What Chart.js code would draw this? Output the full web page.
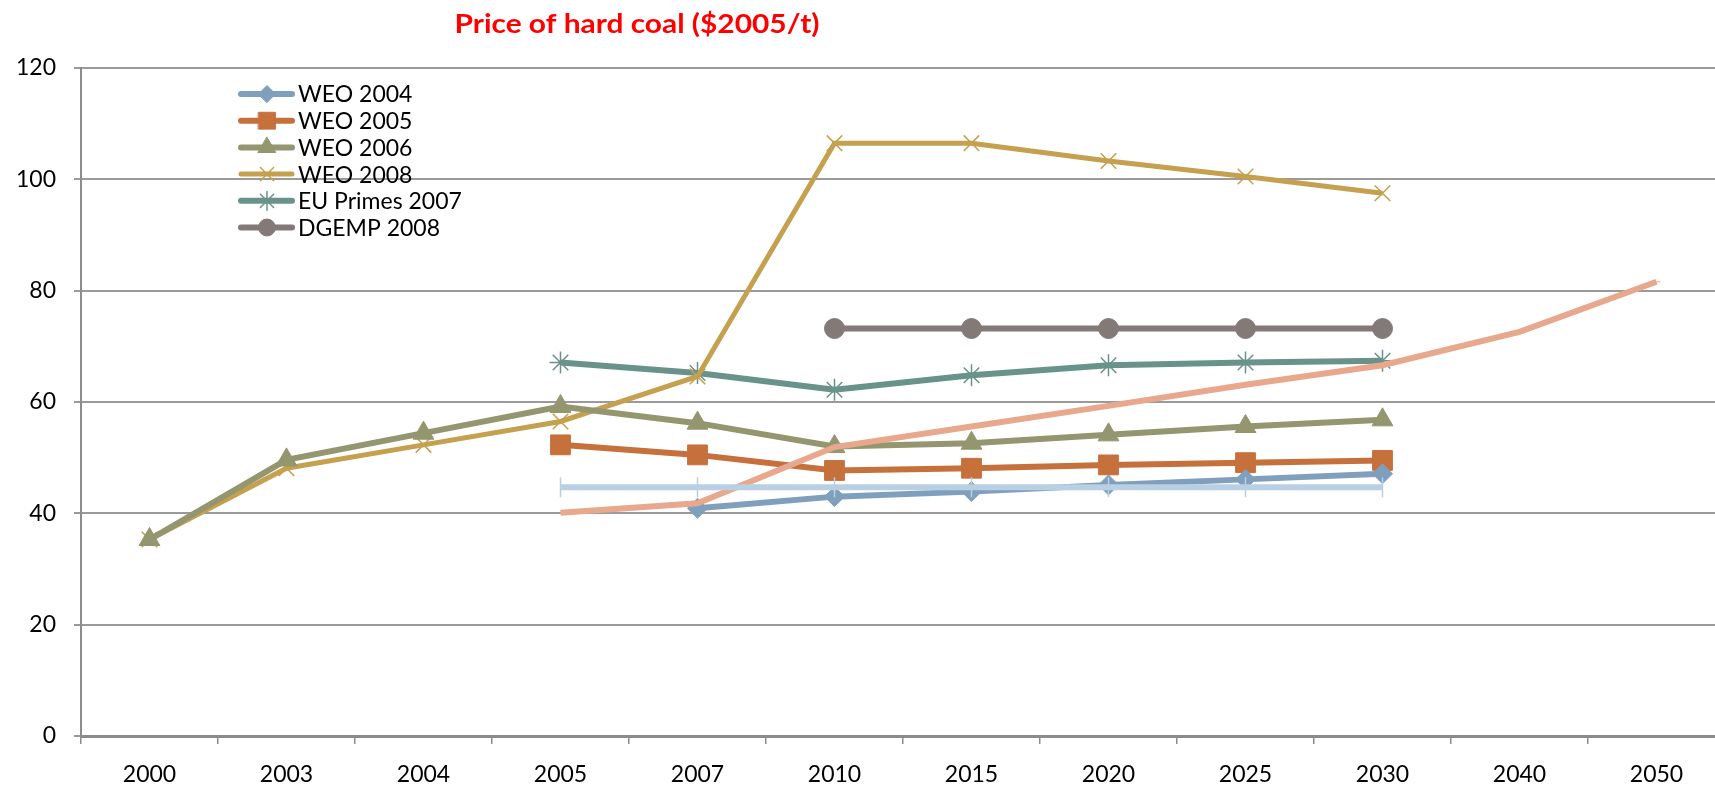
<!DOCTYPE html>
<html>
<head>
<meta charset="utf-8">
<script src="https://cdn.jsdelivr.net/npm/chart.js@4.4.0/dist/chart.umd.min.js"></script>
<style>
  html, body { margin: 0; padding: 0; background: #fff; overflow: hidden; }
  #wrap { position: relative; width: 1715px; height: 787px; overflow: hidden; }
  canvas { display: block; }
</style>
</head>
<body>
<div id="wrap"><canvas id="coalChart" width="1745" height="787"></canvas></div>
<script>
// categories (years)
const years = ["2000", "2003", "2004", "2005", "2007", "2010", "2015", "2020", "2025", "2030", "2040", "2050"];

// series values
const weo2004 = [null, null, null, null, 40.9, 43.0, 43.9, 45.1, 46.1, 47.1, null, null];
const weo2005 = [null, null, null, 52.3, 50.5, 47.7, 48.1, 48.7, 49.1, 49.5, null, null];
const weo2006 = [35.3, 49.6, 54.4, 59.2, 56.2, 52.0, 52.6, 54.1, 55.6, 56.8, null, null];
const weo2008 = [35.3, 48.1, 52.3, 56.5, 64.6, 106.5, 106.5, 103.3, 100.5, 97.5, null, null];
const euPrimes2007 = [null, null, null, 67.1, 65.2, 62.2, 64.8, 66.6, 67.1, 67.4, null, null];
const dgemp2008 = [null, null, null, null, null, 73.2, 73.2, 73.2, 73.2, 73.2, null, null];
const flat2005 = [null, null, null, 44.7, 44.7, 44.7, 44.7, 44.7, 44.7, 44.7, null, null];
const rising = [null, null, null, 40.1, 41.8, 51.9, 55.6, 59.3, 63.1, 66.6, 72.6, 81.6];

const yTicks = [0, 20, 40, 60, 80, 100, 120];

const FONT = "Lato, 'Open Sans', sans-serif";

function serie(label, data, color, style, radius, extra) {
  return Object.assign({
    label: label,
    data: data,
    borderColor: color,
    backgroundColor: color,
    pointBackgroundColor: color,
    pointBorderColor: color,
    borderWidth: 6,
    pointStyle: style,
    pointRadius: radius,
    pointHoverRadius: radius,
    pointBorderWidth: 1,
    tension: 0,
    spanGaps: false,
    showInLegend: true
  }, extra || {});
}

const datasets = [
  serie("", flat2005, "#b9cfe3", "line", 10, { pointRotation: 90, pointBorderWidth: 1.5, showInLegend: false }),
  serie("", rising, "#e8a88d", "dash", 4, { showInLegend: false }),
  serie("WEO 2004", weo2004, "#7f9fbd", "rectRot", 10),
  serie("WEO 2005", weo2005, "#c6703c", "rect", 14),
  serie("WEO 2006", weo2006, "#93966e", "triangle", 12),
  serie("WEO 2008", weo2008, "#c4a04f", "crossRot", 11, { borderWidth: 5, pointBorderWidth: 1.5 }),
  serie("EU Primes 2007", euPrimes2007, "#69928a", "star", 11, { pointBorderWidth: 1.5 }),
  serie("DGEMP 2008", dgemp2008, "#837a78", "circle", 10)
];

// title and legend drawn over the plot, like the original
const overlay = {
  id: "overlay",
  afterDraw(chart) {
    const ctx = chart.ctx;
    const title = "Price of hard coal ($2005/t)";
    ctx.save();
    ctx.fillStyle = "#ff0000";
    ctx.font = "bold 27px " + FONT;
    ctx.textAlign = "center";
    ctx.textBaseline = "middle";
    const w = ctx.measureText(title).width;
    ctx.translate(637, 24);
    ctx.scale(365 / w, 1);
    ctx.fillText(title, 0, 0);
    ctx.restore();

    ctx.save();
    const legendItems = chart.data.datasets.filter(d => d.showInLegend);
    const x0 = 238, y0 = 94, step = 26.7;
    ctx.font = "23px " + FONT;
    ctx.textAlign = "left";
    ctx.textBaseline = "middle";
    legendItems.forEach((d, i) => {
      const y = y0 + i * step;
      ctx.strokeStyle = d.borderColor;
      ctx.lineWidth = d.borderWidth;
      ctx.lineCap = "round";
      ctx.beginPath();
      ctx.moveTo(x0 + 3, y);
      ctx.lineTo(x0 + 54, y);
      ctx.stroke();
      ctx.fillStyle = d.borderColor;
      ctx.lineWidth = d.pointBorderWidth;
      Chart.helpers.drawPoint(ctx, {
        pointStyle: d.pointStyle,
        radius: d.pointRadius * 0.85,
        rotation: 0,
        borderWidth: d.pointBorderWidth
      }, x0 + 29, y);
      ctx.fillStyle = "#000";
      ctx.fillText(d.label, x0 + 60, y + 1);
    });
    ctx.restore();
  }
};

new Chart(document.getElementById("coalChart").getContext("2d"), {
  type: "line",
  data: { labels: years, datasets: datasets },
  options: {
    responsive: false,
    animation: false,
    layout: { padding: { top: 68, right: 20, left: 0, bottom: 0 } },
    plugins: {
      legend: { display: false },
      title: { display: false },
      tooltip: { enabled: false }
    },
    scales: {
      x: {
        offset: true,
        grid: {
          offset: true,
          drawOnChartArea: false,
          color: "#8c8c8c",
          lineWidth: 1.5,
          tickLength: 8
        },
        border: { color: "#8c8c8c", width: 3 },
        ticks: {
          color: "#000",
          font: { family: FONT, size: 23 },
          padding: 17,
          maxRotation: 0,
          autoSkip: false
        },
        afterFit(scale) { scale.height = 51; }
      },
      y: {
        min: 0,
        max: 120,
        afterBuildTicks(scale) { scale.ticks = yTicks.map(v => ({ value: v })); },
        grid: {
          color: "#9a9a9a",
          lineWidth: 2,
          tickLength: 7
        },
        border: { color: "#8c8c8c", width: 2 },
        ticks: {
          color: "#000",
          font: { family: FONT, size: 23 },
          padding: 18
        },
        afterFit(scale) { scale.width = 81; }
      }
    }
  },
  plugins: [overlay]
});
</script>
</body>
</html>
